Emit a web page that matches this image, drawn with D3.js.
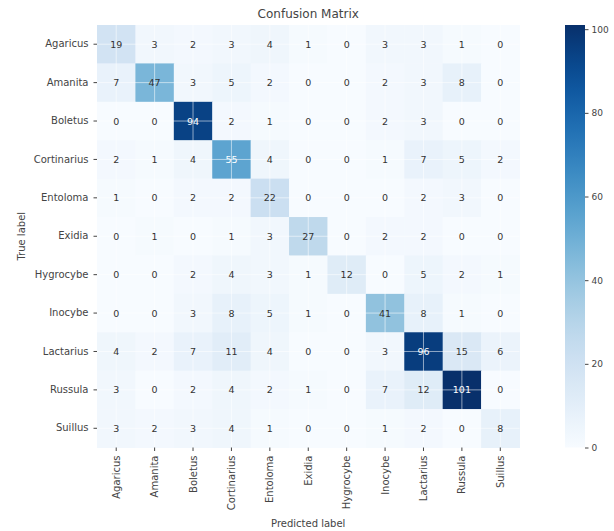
<!DOCTYPE html>
<html><head><meta charset="utf-8">
<script src="https://cdn.jsdelivr.net/npm/d3@7"></script>
<style>
html,body{margin:0;padding:0;background:#fff;}
text{font-family:"DejaVu Sans",sans-serif;}
</style></head>
<body><svg id="chart" width="614" height="531"></svg>
<script>
const categories = ["Agaricus","Amanita","Boletus","Cortinarius","Entoloma","Exidia","Hygrocybe","Inocybe","Lactarius","Russula","Suillus"];
const rowAgaricus    = [19,3,2,3,4,1,0,3,3,1,0];
const rowAmanita     = [7,47,3,5,2,0,0,2,3,8,0];
const rowBoletus     = [0,0,94,2,1,0,0,2,3,0,0];
const rowCortinarius = [2,1,4,55,4,0,0,1,7,5,2];
const rowEntoloma    = [1,0,2,2,22,0,0,0,2,3,0];
const rowExidia      = [0,1,0,1,3,27,0,2,2,0,0];
const rowHygrocybe   = [0,0,2,4,3,1,12,0,5,2,1];
const rowInocybe     = [0,0,3,8,5,1,0,41,8,1,0];
const rowLactarius   = [4,2,7,11,4,0,0,3,96,15,6];
const rowRussula     = [3,0,2,4,2,1,0,7,12,101,0];
const rowSuillus     = [3,2,3,4,1,0,0,1,2,0,8];
const matrix = [rowAgaricus,rowAmanita,rowBoletus,rowCortinarius,rowEntoloma,rowExidia,rowHygrocybe,rowInocybe,rowLactarius,rowRussula,rowSuillus];
const colorbarTicks = [0,20,40,60,80,100];

const svg = d3.select("#chart");
const mLeft = 97, mTop = 25, size = 422.5;
const textColor = "#444";

const x = d3.scaleBand().domain(categories).range([mLeft, mLeft+size]);
const y = d3.scaleBand().domain(categories).range([mTop, mTop+size]);
const vmax = d3.max(matrix.flat());
const color = d3.scaleSequential(d3.interpolateBlues).domain([0, vmax]);

const cells = [];
matrix.forEach((row,i)=>row.forEach((v,j)=>cells.push({t:categories[i],p:categories[j],v})));

svg.append("g").selectAll("rect").data(cells).join("rect")
  .attr("x",d=>x(d.p)).attr("y",d=>y(d.t))
  .attr("width",x.bandwidth()+0.5).attr("height",y.bandwidth()+0.5)
  .attr("fill",d=>color(d.v));

// white grid lines at tick centers
const grid = svg.append("g").attr("stroke","#fff").attr("stroke-opacity",0.55).attr("stroke-width",1);
categories.forEach(c=>{
  grid.append("line").attr("x1",x(c)+x.bandwidth()/2).attr("x2",x(c)+x.bandwidth()/2).attr("y1",mTop).attr("y2",mTop+size);
  grid.append("line").attr("y1",y(c)+y.bandwidth()/2).attr("y2",y(c)+y.bandwidth()/2).attr("x1",mLeft).attr("x2",mLeft+size);
});

svg.append("g").selectAll("text").data(cells).join("text")
  .attr("x",d=>x(d.p)+x.bandwidth()/2).attr("y",d=>y(d.t)+y.bandwidth()/2)
  .attr("text-anchor","middle").attr("dominant-baseline","central")
  .attr("font-size",9.5)
  .attr("fill",d=>d.v>vmax*0.5?"#fff":"#333")
  .text(d=>d.v);

// axes
const xAxis = svg.append("g").attr("transform",`translate(0,${mTop+size})`)
  .call(d3.axisBottom(x).tickSize(3.5).tickPadding(4));
xAxis.select(".domain").remove();
xAxis.selectAll("line").attr("stroke",textColor);
xAxis.selectAll("text").attr("font-size",10).attr("fill",textColor)
  .attr("transform","rotate(-90)").attr("text-anchor","end")
  .attr("x",-8).attr("y",0).attr("dy","0.35em");

const yAxis = svg.append("g").attr("transform",`translate(${mLeft},0)`)
  .call(d3.axisLeft(y).tickSize(3.5).tickPadding(5));
yAxis.select(".domain").remove();
yAxis.selectAll("line").attr("stroke",textColor);
yAxis.selectAll("text").attr("font-size",10).attr("fill",textColor);

// titles
svg.append("text").attr("x",mLeft+size/2).attr("y",18).attr("text-anchor","middle")
  .attr("font-size",12).attr("fill",textColor).text("Confusion Matrix");
svg.append("text").attr("x",mLeft+size/2).attr("y",527).attr("text-anchor","middle")
  .attr("font-size",10).attr("fill",textColor).text("Predicted label");
svg.append("text").attr("transform",`translate(25,${mTop+size/2}) rotate(-90)`).attr("text-anchor","middle")
  .attr("font-size",10).attr("fill",textColor).text("True label");

// colorbar
const cbX = 565, cbW = 20;
const cy = d3.scaleLinear().domain([0,vmax]).range([mTop+size, mTop]);
const defs = svg.append("defs");
const grad = defs.append("linearGradient").attr("id","cbgrad").attr("x1",0).attr("y1",1).attr("x2",0).attr("y2",0);
d3.range(0,1.0001,0.05).forEach(t=>grad.append("stop").attr("offset",t).attr("stop-color",color(t*vmax)));
svg.append("rect").attr("x",cbX).attr("y",mTop).attr("width",cbW).attr("height",size).attr("fill","url(#cbgrad)");
const cbAxis = svg.append("g").attr("transform",`translate(${cbX+cbW},0)`)
  .call(d3.axisRight(cy).tickValues(colorbarTicks).tickSize(3.5).tickPadding(3));
cbAxis.select(".domain").remove();
cbAxis.selectAll("line").attr("stroke",textColor);
cbAxis.selectAll("text").attr("font-size",9).attr("fill",textColor);
</script></body></html>
